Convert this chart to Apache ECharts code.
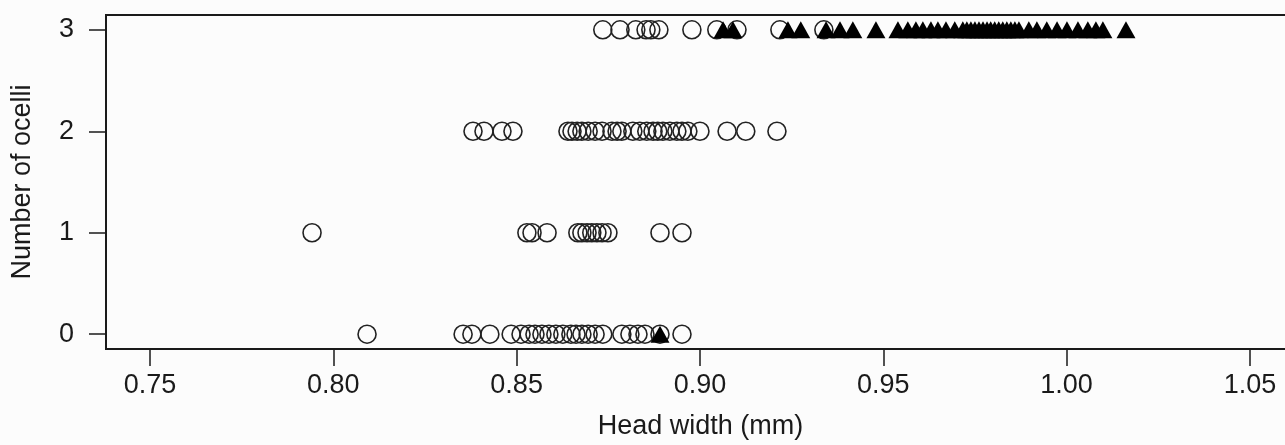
<!DOCTYPE html>
<html>
<head>
<meta charset="utf-8">
<script src="https://cdn.jsdelivr.net/npm/echarts@6/dist/echarts.min.js"></script>
<style>
  html, body { margin: 0; padding: 0; overflow: hidden; background: #fcfcfc; }
  #chart { width: 1295px; height: 445px; }
</style>
</head>
<body>
<div id="chart"></div>
<script>
// head width (mm) of individuals, grouped by number of ocelli
const circles0 = [0.8092, 0.8354, 0.8378, 0.8427, 0.8485, 0.8512, 0.8534, 0.8550, 0.8569, 0.8588,
  0.8607, 0.8626, 0.8648, 0.8662, 0.8678, 0.8695, 0.8714, 0.8735, 0.8787, 0.8809, 0.8831, 0.8850,
  0.8891, 0.8951]
const circles1 = [0.7942, 0.8528, 0.8542, 0.8583, 0.8667, 0.8678, 0.8692, 0.8705, 0.8719, 0.8733,
  0.8749, 0.8891, 0.8951]
const circles2 = [0.8381, 0.8411, 0.8460, 0.8490, 0.8640, 0.8651, 0.8665, 0.8678, 0.8695, 0.8714,
  0.8733, 0.8760, 0.8774, 0.8787, 0.8817, 0.8836, 0.8855, 0.8872, 0.8885, 0.8899, 0.8918, 0.8937,
  0.8951, 0.8967, 0.9000, 0.9074, 0.9125, 0.9210]
const circles3 = [0.8735, 0.8782, 0.8825, 0.8853, 0.8866, 0.8888, 0.8978, 0.9046, 0.9101, 0.9218, 0.9338]

const triangles0 = [0.8891]
const triangles3 = [0.9063, 0.9090, 0.9240, 0.9275, 0.9344, 0.9382, 0.9417, 0.9480, 0.9540, 0.9567,
  0.9589, 0.9608, 0.9630, 0.9649, 0.9671, 0.9695, 0.9717, 0.9728, 0.9739, 0.9750, 0.9761, 0.9772,
  0.9783, 0.9793, 0.9804, 0.9815, 0.9826, 0.9837, 0.9848, 0.9859, 0.9870, 0.9897, 0.9919, 0.9946,
  0.9974, 1.0001, 1.0031, 1.0058, 1.0080, 1.0099, 1.0162]

const xTicks = [0.75, 0.80, 0.85, 0.90, 0.95, 1.00, 1.05]
const yTicks = [0, 1, 2, 3]

const toPoints = (vals, y) => vals.map(v => [v, y])

const ink = '#1a1a1a'
const font = 'Liberation Sans, Arial, sans-serif'

let circleData = [].concat(
  toPoints(circles0, 0), toPoints(circles1, 1), toPoints(circles2, 2), toPoints(circles3, 3))
let triangleData = [].concat(toPoints(triangles0, 0), toPoints(triangles3, 3))

let option = {
  backgroundColor: '#fcfcfc',
  animation: false,
  grid: {
    left: 106,
    right: 0,
    top: 15,
    bottom: 92,
    show: true,
    borderColor: ink,
    borderWidth: 2,
    backgroundColor: 'transparent'
  },
  xAxis: {
    type: 'value',
    min: 0.738,
    max: 1.0623,
    name: 'Head width (mm)',
    nameLocation: 'middle',
    nameGap: 64,
    nameTextStyle: { fontSize: 27, color: ink, fontFamily: font },
    splitLine: { show: false },
    axisLine: { show: true, onZero: false, lineStyle: { color: ink, width: 2 } },
    axisTick: { show: true, length: 17, customValues: xTicks, lineStyle: { color: ink, width: 1.5 } },
    axisLabel: {
      customValues: xTicks,
      margin: 23,
      fontSize: 27,
      color: ink,
      fontFamily: font,
      formatter: v => v.toFixed(2)
    }
  },
  yAxis: {
    type: 'value',
    min: -0.146,
    max: 3.146,
    name: 'Number of ocelli',
    nameLocation: 'middle',
    nameGap: 70,
    nameTextStyle: { fontSize: 27, color: ink, fontFamily: font },
    splitLine: { show: false },
    axisLine: { show: true, onZero: false, lineStyle: { color: ink, width: 2 } },
    axisTick: { show: true, length: 17, customValues: yTicks, lineStyle: { color: ink, width: 1.5 } },
    axisLabel: {
      customValues: yTicks,
      margin: 32,
      fontSize: 27,
      color: ink,
      fontFamily: font
    }
  },
  series: [
    {
      name: 'circles',
      type: 'scatter',
      symbol: 'circle',
      symbolSize: 18,
      data: circleData,
      itemStyle: { color: 'rgba(0,0,0,0)', borderColor: '#222', borderWidth: 1.6, opacity: 1 }
    },
    {
      name: 'triangles',
      type: 'scatter',
      symbol: 'triangle',
      symbolSize: [19, 17],
      data: triangleData,
      itemStyle: { color: '#000', opacity: 1 }
    }
  ]
}

let chart = echarts.init(document.getElementById('chart'))
chart.setOption(option, true)
</script>
</body>
</html>
